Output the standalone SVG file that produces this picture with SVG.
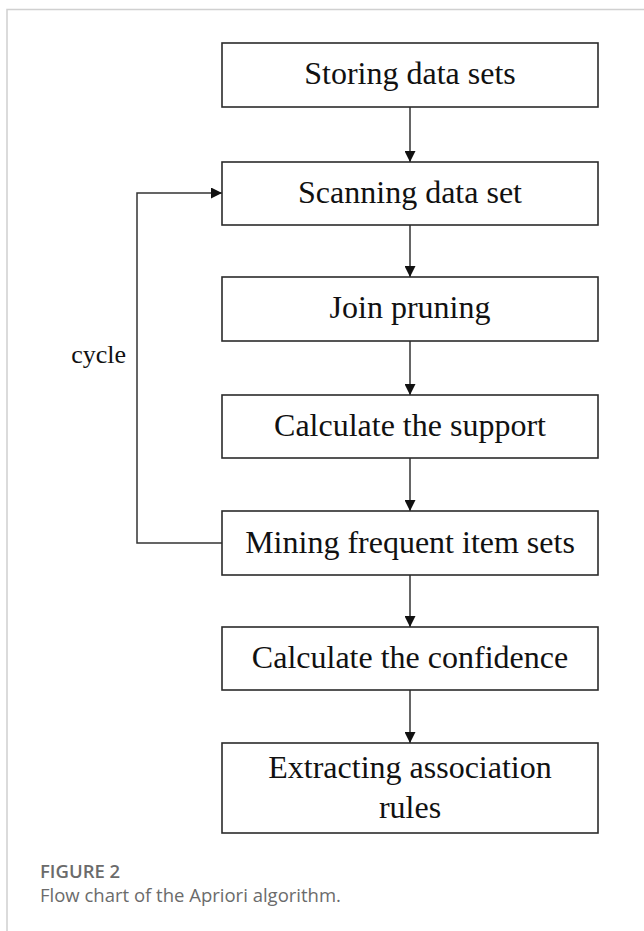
<svg xmlns="http://www.w3.org/2000/svg" width="644" height="931" viewBox="0 0 644 931">
<style>
.box{fill:#fff;stroke:#2b2b2b;stroke-width:1.6}
.lbl{font-family:"Liberation Serif","Times New Roman",serif;font-size:32px;fill:#111;text-anchor:middle}
.con{fill:none;stroke:#333;stroke-width:1.5}
.frame{stroke:#d0d0d0;stroke-width:1.5;fill:none}
.cap1{font-family:"Open Sans",Lato,sans-serif;font-size:18.5px;font-weight:600;fill:#6b6b6b}
.cap2{font-family:"Open Sans",Lato,sans-serif;font-size:18.5px;fill:#6b6b6b}
</style>
<defs>
<marker id="ah" viewBox="0 0 10 10" refX="10" refY="5" markerWidth="11" markerHeight="11" markerUnits="userSpaceOnUse" orient="auto">
<path d="M0,0 L10,5 L0,10 Z" fill="#111"/>
</marker>
</defs>
<rect width="644" height="931" fill="#fff"/>
<path class="frame" d="M7,931 V9.5 H644"/>
<g id="connectors">
<line class="con" x1="410" y1="107" x2="410" y2="162" marker-end="url(#ah)"/>
<line class="con" x1="410" y1="225" x2="410" y2="277" marker-end="url(#ah)"/>
<line class="con" x1="410" y1="341" x2="410" y2="395" marker-end="url(#ah)"/>
<line class="con" x1="410" y1="458" x2="410" y2="511" marker-end="url(#ah)"/>
<line class="con" x1="410" y1="575" x2="410" y2="627" marker-end="url(#ah)"/>
<line class="con" x1="410" y1="690" x2="410" y2="743" marker-end="url(#ah)"/>
<path class="con" d="M222,543 H137 V193 H222" marker-end="url(#ah)"/>
<text id="cycle" x="126" y="363" font-family="Liberation Serif, Times New Roman, serif" font-size="26" fill="#111" text-anchor="end">cycle</text>
</g>
<g id="n1"><rect class="box" x="222" y="43" width="376" height="64"/><text class="lbl" x="410" y="84">Storing data sets</text></g>
<g id="n2"><rect class="box" x="222" y="162" width="376" height="63"/><text class="lbl" x="410" y="203">Scanning data set</text></g>
<g id="n3"><rect class="box" x="222" y="277" width="376" height="64"/><text class="lbl" x="410" y="318">Join pruning</text></g>
<g id="n4"><rect class="box" x="222" y="395" width="376" height="63"/><text class="lbl" x="410" y="436">Calculate the support</text></g>
<g id="n5"><rect class="box" x="222" y="511" width="376" height="64"/><text class="lbl" x="410" y="553">Mining frequent item sets</text></g>
<g id="n6"><rect class="box" x="222" y="627" width="376" height="63"/><text class="lbl" x="410" y="668">Calculate the confidence</text></g>
<g id="n7"><rect class="box" x="222" y="743" width="376" height="90"/><text class="lbl" x="410" y="778">Extracting association</text><text class="lbl" x="410" y="818">rules</text></g>
<g id="caption">
<text class="cap1" x="40" y="878">FIGURE 2</text>
<text class="cap2" x="40" y="902">Flow chart of the Apriori algorithm.</text>
</g>
</svg>
